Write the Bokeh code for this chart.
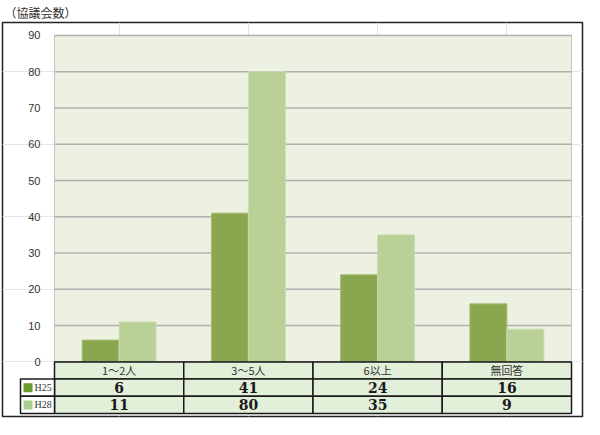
from bokeh.plotting import figure
from bokeh.models import Range1d, LinearAxis, FixedTicker, ColumnDataSource
from bokeh.core.properties import value
from bokeh.embed import file_html
from bokeh.resources import INLINE

# ---- data ----
categories = ["1～2人", "3～5人", "6以上", "無回答"]
series_names = ["H25", "H28"]
h25 = [6, 41, 24, 16]
h28 = [11, 80, 35, 9]
y_ticks = [0, 10, 20, 30, 40, 50, 60, 70, 80, 90]
title_text = "（協議会数）"

# ---- styles ----
C_H25 = "#8aa74f"
C_H28 = "#b9d097"
C_KEY25 = "#6a9a2a"
C_KEY28 = "#a9d18e"
C_PLOT_BG = "#edf1e1"
C_CELL = "#e2efd9"
C_GRID = "#b0b0b0"

# ---- geometry (pixels inside the frame) ----
FIG_W, FIG_H = 584, 419
BORDER_L, BORDER_R, BORDER_T, BORDER_B = 2, 2, 20, 3
FRAME_W = FIG_W - BORDER_L - BORDER_R
FRAME_H = FIG_H - BORDER_T - BORDER_B
PLOT_L, PLOT_R = 52, FRAME_W - 11
PLOT_T = 13
TABLE_B = FRAME_H - 3
ROW_PX = 17.3
PLOT_B = TABLE_B - 3 * ROW_PX
KEY_L = PLOT_L - 34

n = len(categories)
px_x = (PLOT_R - PLOT_L) / n
ymax = y_ticks[-1]
px_y = (PLOT_B - PLOT_T) / ymax

x_start = -0.5 - PLOT_L / px_x
x_end = n - 0.5 + (FRAME_W - PLOT_R) / px_x
y_end = ymax + PLOT_T / px_y
y_start = -(FRAME_H - PLOT_B) / px_y
row_h = ROW_PX / px_y
key_left = -0.5 - (PLOT_L - KEY_L) / px_x

p = figure(width=FIG_W, height=FIG_H, output_backend="svg", toolbar_location=None,
           x_range=Range1d(x_start, x_end), y_range=Range1d(y_start, y_end),
           x_axis_location=None, y_axis_location=None,
           min_border_left=BORDER_L, min_border_right=BORDER_R,
           min_border_top=BORDER_T, min_border_bottom=BORDER_B,
           title=title_text)
p.title.text_font = "Noto Sans CJK JP"
p.title.text_font_size = "12px"
p.title.text_font_style = "normal"
p.title.text_color = "#333333"
p.title.standoff = 3
p.title.offset = 2
p.outline_line_color = "#222222"
p.outline_line_width = 1.5
p.background_fill_color = "white"
p.border_fill_color = "white"

xs = list(range(n))
left_edge = -0.5
right_edge = n - 0.5

# plot area background
p.quad(left=[left_edge], right=[right_edge], bottom=[0], top=[ymax],
       fill_color=C_PLOT_BG, line_color="#c4c4c4", line_width=1)

# grid lines
p.segment(x0=[left_edge] * (len(y_ticks) - 1), x1=[right_edge] * (len(y_ticks) - 1),
          y0=y_ticks[1:], y1=y_ticks[1:], line_color=C_GRID, line_width=1.5)

# bars
bw = 0.286
src = ColumnDataSource(dict(x25=[x - bw / 2 for x in xs], x28=[x + bw / 2 for x in xs],
                            h25=h25, h28=h28))
p.vbar(x="x25", top="h25", bottom=0, width=bw, source=src,
       fill_color=C_H25, line_color="#a4bd72", line_width=1)
p.vbar(x="x28", top="h28", bottom=0, width=bw, source=src,
       fill_color=C_H28, line_color="#cadcb0", line_width=1)

# baseline
p.segment(x0=[left_edge], x1=[right_edge], y0=[0], y1=[0], line_color="#808080", line_width=1.5)

# y axis
yaxis = LinearAxis(fixed_location=left_edge, ticker=FixedTicker(ticks=y_ticks))
yaxis.axis_line_color = None
yaxis.major_tick_line_color = None
yaxis.minor_tick_line_color = None
yaxis.major_label_standoff = 8
yaxis.major_label_text_font = "Liberation Sans"
yaxis.major_label_text_font_size = "11px"
yaxis.major_label_text_color = "#333333"
p.add_layout(yaxis, "left")

# data table
r0_top, r0_bot = 0, -row_h
r1_top, r1_bot = -row_h, -2 * row_h
r2_top, r2_bot = -2 * row_h, -3 * row_h
cell_line = dict(line_color="#1a1a1a", line_width=1.5)

p.quad(left=[x - 0.5 for x in xs], right=[x + 0.5 for x in xs],
       top=[r0_top] * n, bottom=[r0_bot] * n, fill_color=C_CELL, **cell_line)
p.quad(left=[x - 0.5 for x in xs] * 2, right=[x + 0.5 for x in xs] * 2,
       top=[r1_top] * n + [r2_top] * n, bottom=[r1_bot] * n + [r2_bot] * n,
       fill_color=C_CELL, **cell_line)
p.quad(left=[key_left] * 2, right=[left_edge] * 2,
       top=[r1_top, r2_top], bottom=[r1_bot, r2_bot], fill_color="white", **cell_line)

# category labels
p.text(x=xs, y=[(r0_top + r0_bot) / 2] * n, text=categories,
       text_font=value("Noto Sans CJK JP"), text_font_size="11px", text_color="#333333",
       text_align="center", text_baseline="middle")

# values
p.text(x=xs, y=[(r1_top + r1_bot) / 2] * n, text=[str(v) for v in h25],
       text_font=value("DejaVu Serif"), text_font_size="14px", text_font_style="bold",
       text_color="#1a1a1a", text_align="center", text_baseline="middle")
p.text(x=xs, y=[(r2_top + r2_bot) / 2] * n, text=[str(v) for v in h28],
       text_font=value("DejaVu Serif"), text_font_size="14px", text_font_style="bold",
       text_color="#1a1a1a", text_align="center", text_baseline="middle")

# legend keys
key_x = key_left + 7.5 / px_x
key_y = [(r1_top + r1_bot) / 2, (r2_top + r2_bot) / 2]
p.rect(x=[key_x] * 2, y=key_y, width=9, height=9, width_units="screen", height_units="screen",
       fill_color=[C_KEY25, C_KEY28], line_color=None)
p.text(x=[key_left + 14 / px_x] * 2, y=key_y, text=series_names,
       text_font=value("Liberation Sans Narrow"), text_font_size="10px", text_color="#333333",
       text_align="left", text_baseline="middle")

open("out.html", "w").write(file_html(p, INLINE))
